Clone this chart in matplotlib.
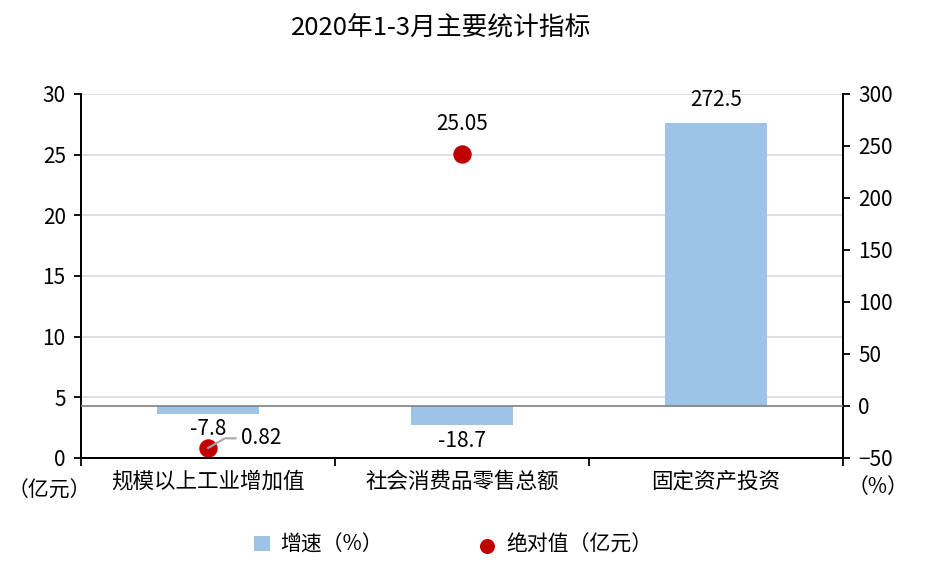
import numpy as np
import matplotlib
matplotlib.use('Agg')
import matplotlib.pyplot as plt

plt.rcParams['font.family'] = ['Noto Sans CJK SC', 'DejaVu Sans']

# data
categories = ['规模以上工业增加值', '社会消费品零售总额', '固定资产投资']
growth = [-7.8, -18.7, 272.5]          # 增速（%）, right axis
absolute = [0.82, 25.05, np.nan]       # 绝对值（亿元）, left axis
growth_labels = ['-7.8', '-18.7', '272.5']
abs_labels = ['0.82', '25.05', '']

bar_color = '#9DC3E6'
dot_color = '#C00000'
fs = 15

fig = plt.figure(figsize=(9.3, 5.69), dpi=100)
ax = fig.add_axes([81/930, 1-458/569, (843-81)/930, (458-94)/569])
ax2 = ax.twinx()

x = np.arange(len(categories))

# left axis: grid + dots
ax.set_ylim(0, 30)
ax.set_yticks(np.arange(0, 31, 5))
ax.set_xlim(-0.5, 2.5)
ax.grid(axis='y', color='#D9D9D9', lw=1.2)
ax.set_axisbelow(True)
ax.scatter(x, absolute, s=150, color=dot_color, zorder=3, label='绝对值（亿元）')

# right axis: bars
ax2.set_ylim(-50, 300)
ax2.set_yticks(np.arange(-50, 301, 50))
ax2.bar(x, growth, width=0.4, color=bar_color, zorder=2, label='增速（%）')
ax2.axhline(0, color='#808080', lw=1.2, zorder=3)

# labels
ax2.annotate(growth_labels[0], (x[0], growth[0]), xytext=(0, -3), textcoords='offset points',
             ha='center', va='top', fontsize=fs)
ax2.annotate(growth_labels[1], (x[1], growth[1]), xytext=(0, -3), textcoords='offset points',
             ha='center', va='top', fontsize=fs)
ax2.annotate(growth_labels[2], (x[2], growth[2]), xytext=(0, 8), textcoords='offset points',
             ha='center', va='bottom', fontsize=fs)
ax.annotate(abs_labels[0], (x[0], absolute[0]), xytext=(24, 7), textcoords='offset points',
            ha='left', va='center', fontsize=fs,
            arrowprops=dict(arrowstyle='-', color='#A6A6A6', lw=1.5,
                            connectionstyle='angle,angleA=0,angleB=30,rad=0',
                            shrinkA=2, shrinkB=0, relpos=(0, 0.5)))
ax.annotate(abs_labels[1], (x[1], absolute[1]), xytext=(0, 14), textcoords='offset points',
            ha='center', va='bottom', fontsize=fs)

# axes styling
for a in (ax, ax2):
    a.spines['top'].set_visible(False)
    for s in ('left', 'right', 'bottom'):
        a.spines[s].set_color('black')
        a.spines[s].set_linewidth(1.3)
ax.tick_params(axis='y', direction='out', length=5, width=1.3, labelsize=fs, pad=6)
ax2.tick_params(axis='y', direction='out', length=5, width=1.3, labelsize=fs, pad=6)
ax.set_xticks(x)
ax.set_xticklabels(categories, fontsize=fs + 0.5)
ax.tick_params(axis='x', length=0, pad=9)
ax.set_xticks([-0.5, 0.5, 1.5, 2.5], minor=True)
ax.tick_params(axis='x', which='minor', direction='out', length=6, width=1.3)

fig.text(0.474, 1-28/569, '2020年1-3月主要统计指标', ha='center', va='center', fontsize=18.5)
fig.text(8/930, 1-491/569, '（亿元）', ha='left', va='center', fontsize=fs)
fig.text(848/930, 1-487/569, '（%）', ha='left', va='center', fontsize=fs)

h1, l1 = ax2.get_legend_handles_labels()
h2, l2 = ax.get_legend_handles_labels()
fig.legend(h1 + h2, l1 + l2, loc='center', bbox_to_anchor=(0.487, 1-545/569), ncol=2,
           frameon=False, fontsize=fs, columnspacing=4.6, handlelength=0.8,
           handletextpad=0.5, markerscale=0.8)

fig.savefig('out.png', dpi=100)
